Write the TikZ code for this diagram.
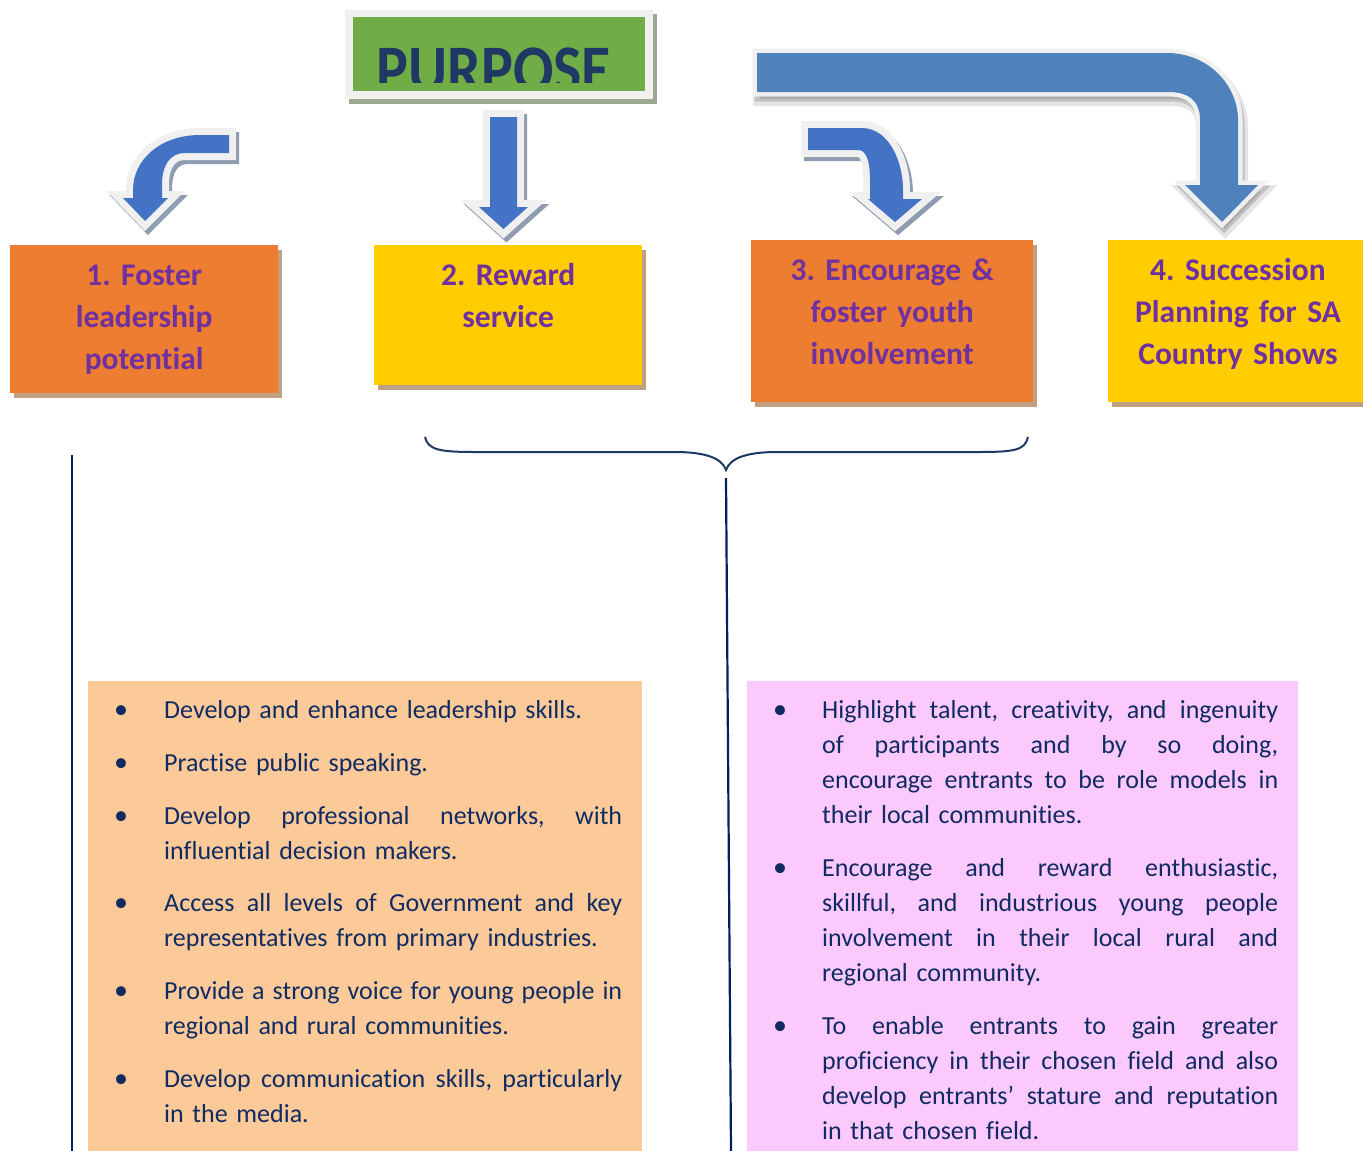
\documentclass[tikz,border=0pt]{standalone}
\usepackage{fontspec}
\setmainfont{Carlito}[Ligatures=NoCommon]
\usetikzlibrary{calc,shadows}
\definecolor{arrowblue}{RGB}{68,114,196}
\definecolor{arrowblueB}{RGB}{79,129,189}
\definecolor{outlinegray}{RGB}{240,240,240}
\definecolor{shadowblue}{RGB}{142,155,176}
\definecolor{pgreen}{RGB}{112,173,71}
\definecolor{pnavy}{RGB}{31,56,100}
\definecolor{borange}{RGB}{237,125,49}
\definecolor{byellow}{RGB}{255,204,0}
\definecolor{bshadow}{RGB}{192,160,130}
\definecolor{tpurple}{RGB}{112,48,160}
\definecolor{lorange}{RGB}{251,202,152}
\definecolor{lpink}{RGB}{252,201,252}
\definecolor{tnavy}{RGB}{16,42,98}
\definecolor{lnavy}{RGB}{0,32,96}
\definecolor{gshadow}{RGB}{154,168,143}
\frenchspacing
\tikzset{
  goalbox/.style={inner sep=0pt, anchor=north west, draw=none,
    drop shadow={shadow xshift=4pt, shadow yshift=-5pt, fill=bshadow, opacity=1}},
  gtitle/.style={anchor=base, inner sep=0pt, text width=270pt, align=center,
    font=\fontsize{31.5}{42}\selectfont\bfseries\frenchspacing, text=tpurple},
  listbox/.style={inner sep=0pt, anchor=north west, draw=none},
  itemtext/.style={anchor=base west, inner sep=0pt, text width=470pt, align=left,
    font=\fontsize{26}{35.3}\selectfont\frenchspacing, text=tnavy},
  bul/.style={anchor=base, inner sep=0pt, font=\fontsize{28}{28}\selectfont, text=tnavy},
  vline/.style={draw=lnavy, line width=2.2pt},
  bracestyle/.style={draw=pnavy, line width=2pt},
  arrowshadow/.style={fill=shadowblue, draw=shadowblue, line width=14pt, line join=miter, shift={(3,4)}},
  arrowoutline/.style={fill=outlinegray, draw=outlinegray, line width=14pt, line join=miter},
  arrowbody/.style={fill=arrowblue}
}
\newcommand\jl[1]{\leavevmode\hbox to 458pt{\spaceskip=0pt\relax\xspaceskip=0pt\relax #1}}
\newcommand\jr[1]{\leavevmode\hbox to 456pt{\spaceskip=0pt\relax\xspaceskip=0pt\relax #1}}
\newcommand\arrowone[1]{\path[#1] (229,135) -- (200,135) .. controls (160,135) and (133,160) .. (133,190) -- (133,198) -- (123,198) -- (145,221) -- (168,198) -- (162,198) -- (162,185) .. controls (162,165) and (170,153) .. (185,153) -- (229,153) -- cycle;}
\newcommand\arrowtwo[1]{\path[#1] (490,117) -- (517,117) -- (517,207) -- (528,207) -- (503.5,229) -- (479,207) -- (490,207) -- cycle;}
\newcommand\arrowthree[1]{\path[#1] (808,128) -- (862,128) .. controls (888,128) and (903,160) .. (903,190) -- (903,199) -- (922,199) -- (895,222) -- (868,199) -- (870,199) -- (870,180) .. controls (870,160) and (866,150) .. (858,150) -- (808,150) -- cycle;}
\newcommand\arrowfour[1]{\path[#1] (757,53) -- (1167,53) .. controls (1208,53) and (1238,85) .. (1238,120) -- (1238,185) -- (1258,185) -- (1222,222) -- (1185,185) -- (1200,185) -- (1200,120) .. controls (1200,100) and (1188,92) .. (1168,92) -- (757,92) -- cycle;}
\begin{document}
\begin{tikzpicture}[x=1pt,y=-1pt]
\fill[white] (0,0) rectangle (1363,1151);
\useasboundingbox (0,0) rectangle (1363,1151);

% PURPOSE box
\fill[gshadow] (349,14) rectangle (657,104);
\node[listbox, fill=outlinegray, minimum width=308pt, minimum height=89pt] (pframe) at (345,10) {};
\node[listbox, fill=pgreen, minimum width=292pt, minimum height=74pt] (pbox) at (353,17) {};
\begin{scope}
  \clip (353,17) rectangle (645,82);
  \node[anchor=base, inner sep=0pt, font=\fontsize{68}{68}\selectfont\bfseries, text=pnavy, xscale=0.88, transform shape] (ptext) at (494,92) {PURPOSE};
\end{scope}

% arrows
\arrowone{arrowshadow}
\arrowone{arrowoutline}
\arrowone{arrowbody}
\arrowtwo{arrowshadow}
\arrowtwo{arrowoutline}
\arrowtwo{arrowbody}
\arrowthree{arrowshadow}
\arrowthree{arrowoutline}
\arrowthree{arrowbody}
\arrowfour{fill=black, draw=black, opacity=0.10, line width=14pt, line join=miter, shift={(3,7)}}
\arrowfour{fill=black, draw=black, opacity=0.15, line width=9pt, line join=miter, shift={(2,5)}}
\arrowfour{fill=outlinegray, draw=outlinegray, line width=9pt, line join=miter}
\arrowfour{fill=arrowblueB}

% goal boxes
\node[goalbox, fill=borange, minimum width=268pt, minimum height=148pt] (b1) at (10,245) {};
\node[goalbox, fill=byellow, minimum width=268pt, minimum height=140pt] (b2) at (374,245) {};
\node[goalbox, fill=borange, minimum width=282pt, minimum height=162pt] (b3) at (751,240) {};
\node[goalbox, fill=byellow, minimum width=262pt, minimum height=162pt] (b4) at (1108,240) {};

\node[gtitle] (t1) at ($(b1.north)+(0,40)$) {1. Foster\\leadership\\potential};
\node[gtitle] (t2) at ($(b2.north)+(0,40)$) {2. Reward\\service};
\node[gtitle] (t3) at ($(b3.north)+(0,40)$) {3. Encourage \&\\foster youth\\involvement};
\node[gtitle] (t4) at (1238,280) {4. Succession\\Planning for SA\\Country Shows};

% brace and lines
\coordinate (brL) at (425,437);
\coordinate (brR) at (1028,437);
\coordinate (brTip) at (726,470);
\draw[bracestyle] (brL) .. controls (428,450) and (440,452) .. (475,452) -- (675,452) .. controls (705,452) and (722,458) .. (brTip) .. controls (730,458) and (747,452) .. (777,452) -- (980,452) .. controls (1015,452) and (1025,450) .. (brR);
\coordinate (rlTop) at (726,478);
\coordinate (rlBot) at (731,1151);
\coordinate (llTop) at (72,455);
\coordinate (llBot) at (72,1151);

% list boxes
\node[listbox, fill=lorange, minimum width=554pt, minimum height=470pt] (lbox) at (88,681) {};
\node[listbox, fill=lpink, minimum width=551pt, minimum height=470pt] (rbox) at (747,681) {};
\draw[vline] (llTop) -- (llBot);
\draw[vline] (rlTop) -- (rlBot);

% left items
\node[bul] (lb1) at (121,718) {•};
\node[itemtext] (li1) at (164,718) {Develop and enhance leadership skills.};
\node[bul] (lb2) at (121,771) {•};
\node[itemtext] (li2) at (164,771) {Practise public speaking.};
\node[bul] (lb3) at (121,824) {•};
\node[itemtext] (li3) at (164,824) {\jl{Develop professional networks, with}\\influential decision makers.};
\node[bul] (lb4) at (121,911) {•};
\node[itemtext] (li4) at (164,911) {\jl{Access all levels of Government and key}\\representatives from primary industries.};
\node[bul] (lb5) at (121,999) {•};
\node[itemtext] (li5) at (164,999) {\jl{Provide a strong voice for young people in}\\regional and rural communities.};
\node[bul] (lb6) at (121,1087) {•};
\node[itemtext] (li6) at (164,1087) {\jl{Develop communication skills, particularly}\\in the media.};

% right items
\node[bul] (rb1) at (780,718) {•};
\node[itemtext] (ri1) at (822,718) {\jr{Highlight talent, creativity, and ingenuity}\\\jr{of participants and by so doing,}\\\jr{encourage entrants to be role models in}\\their local communities.};
\node[bul] (rb2) at (780,876) {•};
\node[itemtext] (ri2) at (822,876) {\jr{Encourage and reward enthusiastic,}\\\jr{skillful, and industrious young people}\\\jr{involvement in their local rural and}\\regional community.};
\node[bul] (rb3) at (780,1034) {•};
\node[itemtext] (ri3) at (822,1034) {\jr{To enable entrants to gain greater}\\\jr{proficiency in their chosen field and also}\\\jr{develop entrants’ stature and reputation}\\in that chosen field.};
\end{tikzpicture}
\end{document}
